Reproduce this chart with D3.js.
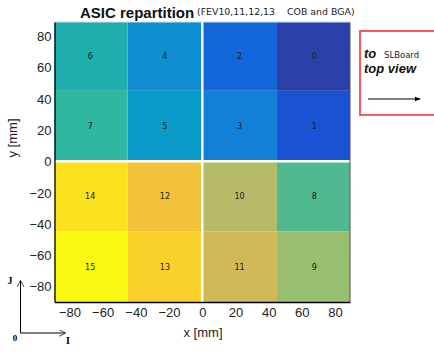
<!DOCTYPE html>
<html>
<head>
<meta charset="utf-8">
<script src="https://cdn.jsdelivr.net/npm/d3@7"></script>
<style>
  body { margin: 0; background: #fff; }
  svg { display: block; font-family: "Liberation Sans", Arial, sans-serif; }
</style>
</head>
<body>
<svg id="chart" width="434" height="358"></svg>
<script>
// ASIC numbers and their cell centres (mm)
const asicIds = [0, 1, 2, 3, 4, 5, 6, 7, 8, 9, 10, 11, 12, 13, 14, 15];
const asicX = [67.5, 67.5, 22.5, 22.5, -22.5, -22.5, -67.5, -67.5, 67.5, 67.5, 22.5, 22.5, -22.5, -22.5, -67.5, -67.5];
const asicY = [67.5, 22.5, 67.5, 22.5, 67.5, 22.5, 67.5, 22.5, -22.5, -67.5, -22.5, -67.5, -22.5, -67.5, -22.5, -67.5];
const cellSize = 45;
// colour read for each ASIC number
const asicColors = ["#2a3fa8", "#1a52d4", "#1266da", "#1380d8", "#0f8fd0", "#0a9ac8", "#1eaeae", "#2fb79f",
                    "#50b990", "#98bf70", "#b6bb68", "#d0b858", "#f2c23c", "#fad12a", "#fae220", "#f8f812"];
const xTicks = [-80, -60, -40, -20, 0, 20, 40, 60, 80];
const yTicks = [-80, -60, -40, -20, 0, 20, 40, 60, 80];

const svg = d3.select("#chart");
const x = d3.scaleLinear().domain([-89, 89]).range([54.5, 350]);
const y = d3.scaleLinear().domain([-90, 89]).range([302, 22]);
const color = d3.scaleOrdinal().domain(asicIds).range(asicColors);

svg.append("clipPath").attr("id", "plotclip")
    .append("rect")
    .attr("x", x(-89)).attr("y", y(89))
    .attr("width", x(89) - x(-89)).attr("height", y(-90) - y(89));

const cells = asicIds.map((id, i) => ({ id, cx: asicX[i], cy: asicY[i] }));

const plot = svg.append("g").attr("clip-path", "url(#plotclip)");
plot.selectAll("rect.cell")
    .data(cells)
    .enter()
    .append("rect")
    .attr("class", "cell")
    .attr("x", d => x(d.cx - cellSize / 2))
    .attr("y", d => y(d.cy + cellSize / 2))
    .attr("width", d => x(d.cx + cellSize / 2) - x(d.cx - cellSize / 2))
    .attr("height", d => y(d.cy - cellSize / 2) - y(d.cy + cellSize / 2))
    .attr("fill", d => color(d.id));

// white separation lines through the middle
plot.append("line")
    .attr("x1", x(0)).attr("x2", x(0))
    .attr("y1", y(89)).attr("y2", y(-90))
    .attr("stroke", "#fff").attr("stroke-width", 2.5);
plot.append("line")
    .attr("x1", x(-89)).attr("x2", x(89))
    .attr("y1", y(0)).attr("y2", y(0))
    .attr("stroke", "#fff").attr("stroke-width", 2.5);

plot.selectAll("text.lab")
    .data(cells)
    .enter()
    .append("text")
    .attr("class", "lab")
    .attr("x", d => x(d.cx))
    .attr("y", d => y(d.cy) + 3)
    .attr("text-anchor", "middle")
    .attr("font-family", "DejaVu Sans, sans-serif")
    .attr("font-size", 8)
    .attr("fill", "#1a1a1a")
    .text(d => d.id);

// frame
svg.append("line").attr("x1", x(89)).attr("x2", x(89)).attr("y1", y(89)).attr("y2", y(-90))
    .attr("stroke", "#555").attr("stroke-width", 1);
svg.append("line").attr("x1", x(-89)).attr("x2", x(89)).attr("y1", y(89)).attr("y2", y(89))
    .attr("stroke", "#cde").attr("stroke-width", 1);

// axes
const xAxis = svg.append("g")
    .attr("transform", `translate(0,${y(-90)})`)
    .call(d3.axisBottom(x).tickValues(xTicks).tickSize(0).tickPadding(6).tickFormat(d => d3.format("")(d).replace("-", "\u2212")));
const yAxis = svg.append("g")
    .attr("transform", `translate(${x(-89)},0)`)
    .call(d3.axisLeft(y).tickValues(yTicks).tickSize(0).tickPadding(3).tickFormat(d => d3.format("")(d).replace("-", "\u2212")));
[xAxis, yAxis].forEach(a => {
  a.select(".domain").attr("stroke", "#000").attr("stroke-width", 1.3);
  a.selectAll("text").attr("font-family", "Liberation Sans, Arial, sans-serif").attr("font-size", 13).attr("fill", "#222");
});
yAxis.selectAll("text").attr("dy", "0.35em");

svg.append("text")
    .attr("x", 203).attr("y", 337)
    .attr("text-anchor", "middle").attr("font-size", 13).attr("fill", "#222")
    .text("x [mm]");
svg.append("text")
    .attr("transform", "translate(17,138) rotate(-90)")
    .attr("text-anchor", "middle").attr("font-size", 13).attr("fill", "#222")
    .text("y [mm]");

// title
svg.append("text")
    .attr("x", 80).attr("y", 18)
    .attr("font-size", 15).attr("font-weight", "bold").attr("fill", "#111")
    .text("ASIC repartition");
svg.append("text")
    .attr("x", 197).attr("y", 15)
    .attr("font-family", "DejaVu Sans, sans-serif")
    .attr("font-size", 9.4).attr("fill", "#222")
    .text("(FEV10,11,12,13");
svg.append("text")
    .attr("x", 287).attr("y", 15)
    .attr("font-family", "DejaVu Sans, sans-serif")
    .attr("font-size", 9.4).attr("fill", "#222")
    .text("COB and BGA)");

// box on the right
svg.append("rect")
    .attr("x", 360).attr("y", 31).attr("width", 80).attr("height", 84)
    .attr("fill", "none").attr("stroke", "#f22").attr("stroke-width", 1.5);
svg.append("text").attr("x", 364).attr("y", 58)
    .attr("font-size", 13).attr("font-weight", "bold").attr("font-style", "italic").attr("fill", "#111")
    .text("to");
svg.append("text").attr("x", 384).attr("y", 58)
    .attr("font-family", "DejaVu Sans, sans-serif")
    .attr("font-size", 8.5).attr("fill", "#222")
    .text("SLBoard");
svg.append("text").attr("x", 364).attr("y", 73)
    .attr("font-size", 13).attr("font-weight", "bold").attr("font-style", "italic").attr("fill", "#111")
    .text("top view");

svg.append("defs").append("marker")
    .attr("id", "arr").attr("viewBox", "0 0 10 10").attr("refX", 9).attr("refY", 5)
    .attr("markerWidth", 6).attr("markerHeight", 6).attr("orient", "auto")
    .append("path").attr("d", "M0,1 L10,5 L0,9").attr("fill", "#000");
svg.append("defs").append("marker")
    .attr("id", "open").attr("viewBox", "0 0 10 10").attr("refX", 9).attr("refY", 5)
    .attr("markerWidth", 7).attr("markerHeight", 7).attr("orient", "auto")
    .append("path").attr("d", "M0,0 L10,5 L0,10").attr("fill", "none").attr("stroke", "#000").attr("stroke-width", 1);

svg.append("line").attr("x1", 368).attr("x2", 420).attr("y1", 99).attr("y2", 99)
    .attr("stroke", "#000").attr("stroke-width", 1).attr("marker-end", "url(#arr)");

// I / J orientation arrows
svg.append("line").attr("x1", 20.5).attr("x2", 20.5).attr("y1", 333).attr("y2", 281)
    .attr("stroke", "#000").attr("stroke-width", 1).attr("marker-end", "url(#open)");
svg.append("line").attr("x1", 20.5).attr("x2", 65).attr("y1", 333).attr("y2", 333)
    .attr("stroke", "#000").attr("stroke-width", 1).attr("marker-end", "url(#open)");
svg.append("text").attr("x", 10).attr("y", 284).attr("text-anchor", "middle")
    .attr("font-family", "Liberation Serif, serif").attr("font-weight", "bold").attr("font-size", 10)
    .text("J");
svg.append("text").attr("x", 15).attr("y", 341).attr("text-anchor", "middle")
    .attr("font-family", "Liberation Serif, serif").attr("font-weight", "bold").attr("font-size", 9)
    .text("0");
svg.append("text").attr("x", 68).attr("y", 344).attr("text-anchor", "middle")
    .attr("font-family", "Liberation Serif, serif").attr("font-weight", "bold").attr("font-size", 10)
    .text("I");
</script>
</body>
</html>
